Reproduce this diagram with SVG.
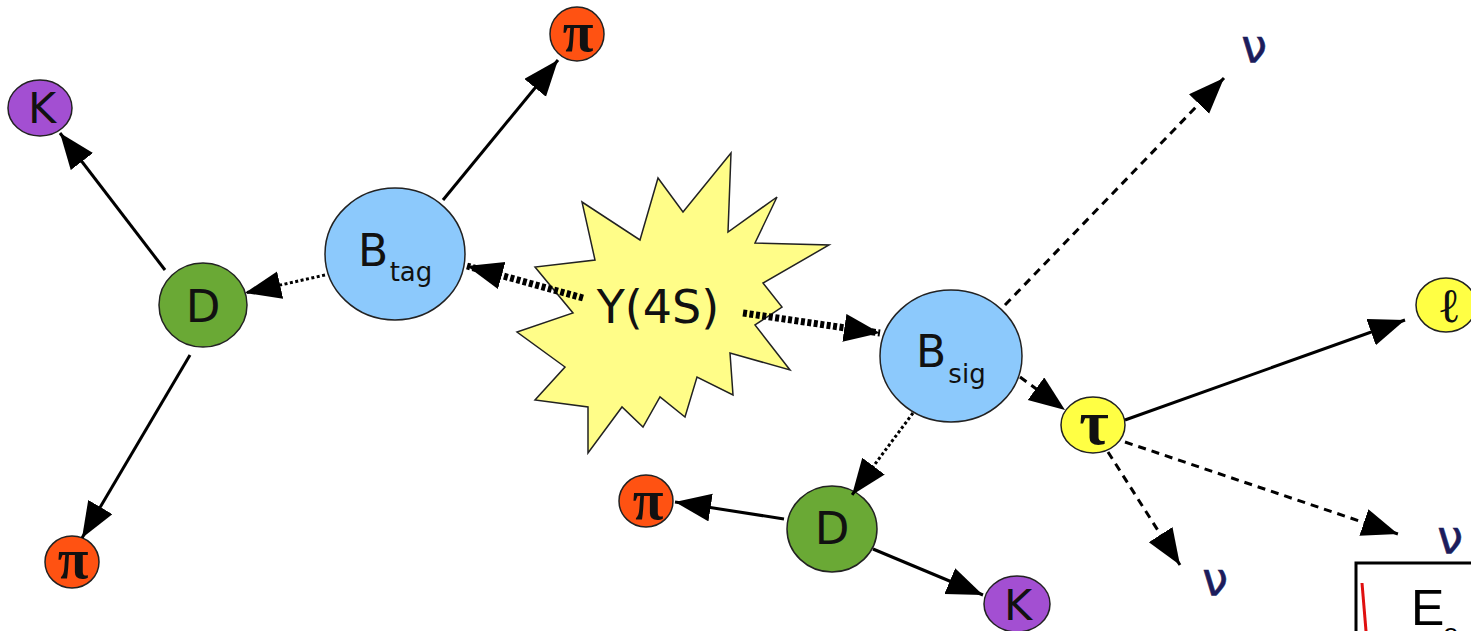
<svg xmlns="http://www.w3.org/2000/svg" width="1471" height="631" viewBox="0 0 1471 631">
<style>
.n{stroke:#222;stroke-width:1.5}
.k{fill:#a34fd2}
.p{fill:#ff5212}
.d{fill:#6aa935}
.b{fill:#8cc9fc}
.y{fill:#ffff44}
.t{font-family:"DejaVu Sans",sans-serif;fill:#111;text-anchor:middle}
.g{font-family:"Liberation Serif",serif;font-weight:bold;fill:#111;text-anchor:middle}
.nu{font-family:"DejaVu Sans",sans-serif;fill:#1c1c5c;text-anchor:middle;font-size:46px;stroke:#1c1c5c;stroke-width:0.6}
.s{stroke:#000;stroke-width:3;fill:none}
.dot{stroke:#000;stroke-width:3;fill:none;stroke-dasharray:3 2.5}
.dash{stroke:#000;stroke-width:3;fill:none;stroke-dasharray:8 6}
.thick{stroke:#000;stroke-width:7;fill:none;stroke-dasharray:4 2.5}
</style>
<defs>
<marker id="ah" markerUnits="userSpaceOnUse" markerWidth="38" markerHeight="30" refX="36" refY="14" orient="auto">
<path d="M0,0 L36,14 L0,28 z" fill="#000"/>
</marker>
</defs>

<g id="Y4S">
<polygon points="731,153 728,232 777,197 755,243 829,245 763,283 782,307 755,325 790,370 730,353 733,395 697,377 685,417 660,397 643,427 622,407 588,453 588,407 535,400 565,367 517,332 573,313 535,267 595,260 582,202 640,240 658,178 683,212" fill="#fffd88" stroke="#222" stroke-width="1.5"/>
<text class="t" x="658" y="323" font-size="46">Y(4S)</text>
</g>

<g id="K1"><ellipse class="n k" cx="40" cy="108" rx="32" ry="28"/><text class="t" x="42" y="123" font-size="43">K</text></g>
<g id="PI1"><ellipse class="n p" cx="577" cy="34" rx="27" ry="27"/><text class="g" x="578" y="51" font-size="56">π</text></g>
<g id="Btag"><ellipse class="n b" cx="395" cy="254" rx="70" ry="66"/><text class="t" x="373" y="266" font-size="44">B</text><text class="t" x="411" y="281" font-size="26">tag</text></g>
<g id="D1"><ellipse class="n d" cx="203" cy="305" rx="44" ry="42"/><text class="t" x="203" y="322" font-size="45">D</text></g>
<g id="PI2"><ellipse class="n p" cx="72" cy="562" rx="27" ry="26"/><text class="g" x="73" y="578" font-size="56">π</text></g>
<g id="Bsig"><ellipse class="n b" cx="951" cy="356" rx="71" ry="66"/><text class="t" x="931" y="367" font-size="44">B</text><text class="t" x="967" y="383" font-size="26">sig</text></g>
<g id="TAU"><ellipse class="n y" cx="1093" cy="425" rx="32" ry="28"/><text class="g" x="1094" y="444" font-size="64">τ</text></g>
<g id="L"><ellipse class="n y" cx="1446" cy="305" rx="30" ry="27"/><text x="1449" y="322" font-size="48" font-family="DejaVu Serif,serif" font-weight="bold" fill="#111" text-anchor="middle">ℓ</text></g>
<g id="D2"><ellipse class="n d" cx="832" cy="529" rx="45" ry="43"/><text class="t" x="832" y="544" font-size="45">D</text></g>
<g id="PI3"><ellipse class="n p" cx="646" cy="501" rx="27" ry="26"/><text class="g" x="648" y="519" font-size="56">π</text></g>
<g id="K2"><ellipse class="n k" cx="1017" cy="604" rx="33" ry="28"/><text class="t" x="1018" y="620" font-size="43">K</text></g>

<g id="NU1"><text class="nu" x="1254" y="62">ν</text></g>
<g id="NU2"><text class="nu" x="1450" y="553">ν</text></g>
<g id="NU3"><text class="nu" x="1215" y="595">ν</text></g>

<g id="box">
<rect x="1356" y="563" width="200" height="100" fill="#fff" stroke="#000" stroke-width="3"/>
<line x1="1362" y1="583" x2="1366" y2="631" stroke="#e01010" stroke-width="3"/>
<text x="1411" y="625" font-family="Liberation Sans,sans-serif" font-size="50" fill="#000">E</text>
<text x="1443" y="643" font-family="Liberation Sans,sans-serif" font-size="28" fill="#000">e</text>
</g>

<g id="connectors">
<line class="s" x1="165" y1="270" x2="60" y2="133" marker-end="url(#ah)"/>
<line class="s" x1="190" y1="355" x2="82" y2="538" marker-end="url(#ah)"/>
<line class="s" x1="443" y1="200" x2="558" y2="60" marker-end="url(#ah)"/>
<line class="dot" x1="325" y1="275" x2="245" y2="293" marker-end="url(#ah)"/>
<line class="thick" x1="583" y1="298" x2="467" y2="266" marker-end="url(#ah)"/>
<line class="thick" x1="743" y1="313" x2="880" y2="333" marker-end="url(#ah)"/>
<line class="dash" x1="1005" y1="305" x2="1224" y2="78" marker-end="url(#ah)"/>
<line class="dash" x1="1020" y1="377" x2="1065" y2="410" marker-end="url(#ah)"/>
<line class="dot" x1="913" y1="413" x2="852" y2="495" marker-end="url(#ah)"/>
<line class="s" x1="784" y1="519" x2="675" y2="502" marker-end="url(#ah)"/>
<line class="s" x1="873" y1="549" x2="983" y2="595" marker-end="url(#ah)"/>
<line class="s" x1="1125" y1="420" x2="1405" y2="320" marker-end="url(#ah)"/>
<line class="dash" x1="1125" y1="442" x2="1398" y2="534" marker-end="url(#ah)"/>
<line class="dash" x1="1108" y1="452" x2="1180" y2="565" marker-end="url(#ah)"/>
</g>
</svg>
